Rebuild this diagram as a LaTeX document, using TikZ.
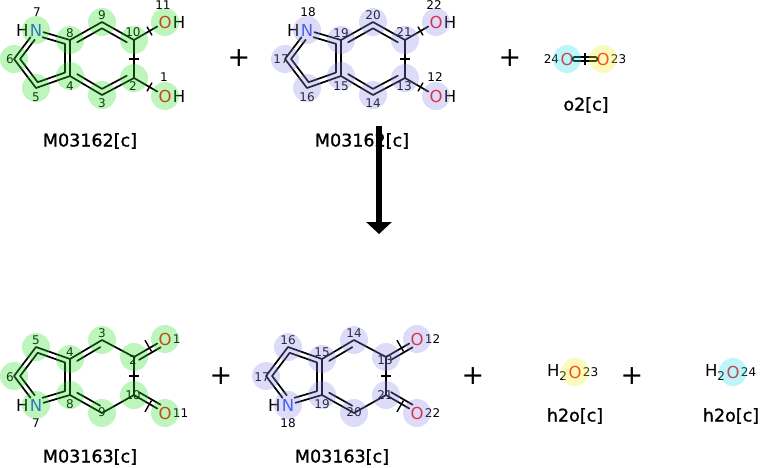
\documentclass[tikz,border=0pt]{standalone}
\usepackage{fontspec}
\setmainfont{DejaVu Sans}
\newfontfamily\namefont[FakeBold=1.2]{DejaVu Sans}
\usepackage{tikz}
\usetikzlibrary{arrows.meta,calc}

\definecolor{hlgreen}{RGB}{38,222,38}
\definecolor{hlblue}{RGB}{138,138,232}
\definecolor{hlcyan}{RGB}{38,222,238}
\definecolor{hlyellow}{RGB}{238,238,38}
\definecolor{ored}{RGB}{255,13,13}
\definecolor{nblue}{RGB}{48,80,248}

\begin{document}
\begin{tikzpicture}[x=1pt,y=-1pt,
  bond/.style={line width=1.7pt, line cap=round, line join=round},
  tick/.style={line width=1.4pt},
  atomlbl/.style={inner sep=1pt, font=\fontsize{16.5}{16.5}\selectfont},
  numlbl/.style={inner sep=0pt, font=\fontsize{12}{12}\selectfont},
  molname/.style={font=\namefont\fontsize{17.5}{17.5}\selectfont},
  plussign/.style={font=\fontsize{27}{27}\selectfont},
  hl/.style={fill=#1, fill opacity=0.3}]
\useasboundingbox (0,0) rectangle (760,467);

% substrates: two indole diols
\foreach \dx/\col/\nN/\nPa/\nPb/\nJa/\nJb/\nBa/\nBb/\nBc/\nBd/\nOa/\nOb in
  {0/hlgreen/7/6/5/4/8/9/10/2/3/11/1, 271/hlblue/18/17/16/15/19/20/21/13/14/22/12}
{
\begin{scope}[shift={(\dx,0)}]
  \node[atomlbl, text=nblue] (N) at (36,30) {N};
  \node[atomlbl, anchor=east, inner sep=0pt] at (N.west) {H};
  \coordinate (p1) at (14,59);
  \coordinate (p2) at (36,88);
  \coordinate (j1) at (70,76);
  \coordinate (j2) at (70,40);
  \coordinate (b1) at (102,22);
  \coordinate (b2) at (134,40);
  \coordinate (b3) at (134,78);
  \coordinate (b4) at (102,95);
  \node[atomlbl, text=ored] (oT) at (165,22) {O};
  \node[atomlbl, anchor=west, inner sep=0pt] at (oT.east) {H};
  \node[atomlbl, text=ored] (oB) at (165,96) {O};
  \node[atomlbl, anchor=west, inner sep=0pt] at (oB.east) {H};
  \coordinate (pc) at (44.5,59);
  \coordinate (hc) at (102,59);
  % rings
  \draw[bond] (N) -- (p1) -- (p2) -- (j1) -- (j2) -- (N);
  \draw[bond] (j2) -- (b1) -- (b2) -- (b3) -- (b4) -- (j1);
  \draw[bond] (b2) -- (oT) (b3) -- (oB);
  \draw[bond, shorten <=5pt, shorten >=5pt] ($(N)!.2!(pc)$) -- ($(p1)!.2!(pc)$)
    -- ($(p2)!.2!(pc)$) -- ($(j1)!.2!(pc)$) -- ($(j2)!.2!(pc)$) -- ($(N)!.2!(pc)$);
  \draw[bond, shorten <=2pt, shorten >=2pt] ($(j2)!.17!(hc)$) -- ($(b1)!.17!(hc)$) -- ($(b2)!.17!(hc)$);
  \draw[bond, shorten <=2pt, shorten >=2pt] ($(b3)!.17!(hc)$) -- ($(b4)!.17!(hc)$) -- ($(j1)!.17!(hc)$);
  % changed bonds
  \draw[tick] ($(b2)!.5!(oT)!5pt!90:(oT)$) -- ($(b2)!.5!(oT)!5pt!-90:(oT)$);
  \draw[tick] ($(b3)!.5!(oB)!5pt!90:(oB)$) -- ($(b3)!.5!(oB)!5pt!-90:(oB)$);
  \draw[tick] ($(b2)!.5!(b3)+(-5,0)$) -- ($(b2)!.5!(b3)+(5,0)$);
  % atom numbers
  \node[numlbl] at ($(N)+(1,-18)$) {\nN};
  \node[numlbl] at ($(p1)+(-4,0)$) {\nPa};
  \node[numlbl] at ($(p2)+(0,9)$) {\nPb};
  \node[numlbl] at ($(j1)+(0,10)$) {\nJa};
  \node[numlbl] at ($(j2)+(0,-7)$) {\nJb};
  \node[numlbl] at ($(b1)+(0,-7)$) {\nBa};
  \node[numlbl] at ($(b2)+(-1,-8)$) {\nBb};
  \node[numlbl] at ($(b3)+(-1,8)$) {\nBc};
  \node[numlbl] at ($(b4)+(0,8)$) {\nBd};
  \node[numlbl] at ($(oT)+(-2,-17)$) {\nOa};
  \node[numlbl] at ($(oB)+(-1,-19)$) {\nOb};
  % highlights
  \foreach \p in {N,p1,p2,j1,j2,b1,b2,b3,b4,oT,oB}
    \fill[hl=\col] (\p.center) circle (14pt);
\end{scope}
}

% products: two indole quinones
\foreach \dx/\col/\nN/\nPa/\nPb/\nJa/\nJb/\nBa/\nBb/\nBc/\nBd/\nOa/\nOb in
  {0/hlgreen/7/6/5/4/8/9/10/2/3/11/1, 252/hlblue/18/17/16/15/19/20/21/13/14/22/12}
{
\begin{scope}[shift={(\dx,435)}, yscale=-1]
  \node[atomlbl, text=nblue] (N) at (36,30) {N};
  \node[atomlbl, anchor=east, inner sep=0pt] at (N.west) {H};
  \coordinate (p1) at (14,59);
  \coordinate (p2) at (36,88);
  \coordinate (j1) at (70,76);
  \coordinate (j2) at (70,40);
  \coordinate (b1) at (102,22);
  \coordinate (b2) at (134,40);
  \coordinate (b3) at (134,78);
  \coordinate (b4) at (102,95);
  \node[atomlbl, text=ored] (oT) at (165,22) {O};
  \node[atomlbl, text=ored] (oB) at (165,96) {O};
  \coordinate (pc) at (44.5,59);
  \coordinate (hc) at (102,59);
  % rings
  \draw[bond] (N) -- (p1) -- (p2) -- (j1) -- (j2) -- (N);
  \draw[bond] (j2) -- (b1) -- (b2) -- (b3) -- (b4) -- (j1);
  \draw[bond] (b2) -- (oT) (b3) -- (oB);
  \draw[bond, shorten <=3pt, shorten >=8pt] ($(b2)+(2.5,4.3)$) -- ($(oT)+(2.5,4.3)$);
  \draw[bond, shorten <=3pt, shorten >=8pt] ($(b3)+(2.5,-4.3)$) -- ($(oB)+(2.5,-4.3)$);
  \draw[bond, shorten <=5pt, shorten >=5pt] ($(N)!.2!(pc)$) -- ($(p1)!.2!(pc)$)
    -- ($(p2)!.2!(pc)$) -- ($(j1)!.2!(pc)$) -- ($(j2)!.2!(pc)$) -- ($(N)!.2!(pc)$);
  \draw[bond, shorten <=2pt, shorten >=2pt] ($(j1)!.17!(hc)$) -- ($(b4)!.17!(hc)$);
  \draw[bond, shorten <=2pt, shorten >=2pt] ($(j2)!.17!(hc)$) -- ($(b1)!.17!(hc)$);
  % changed bonds
  \draw[tick] ($(b2)!.5!(oT)!4pt!-90:(oT)$) -- ($(b2)!.5!(oT)!9pt!90:(oT)$);
  \draw[tick] ($(b3)!.5!(oB)!4pt!90:(oB)$) -- ($(b3)!.5!(oB)!9pt!-90:(oB)$);
  \draw[tick] ($(b2)!.5!(b3)+(-5,0)$) -- ($(b2)!.5!(b3)+(5,0)$);
  % atom numbers
  \node[numlbl] at ($(N)+(0,-18)$) {\nN};
  \node[numlbl] at ($(p1)+(-4,-1)$) {\nPa};
  \node[numlbl] at ($(p2)+(0,7)$) {\nPb};
  \node[numlbl] at ($(j1)+(0,7)$) {\nJa};
  \node[numlbl] at ($(j2)+(0,-9)$) {\nJb};
  \node[numlbl] at ($(b1)+(0,1)$) {\nBa};
  \node[numlbl] at ($(b2)+(-1,0)$) {\nBb};
  \node[numlbl] at ($(b3)+(-1,-3)$) {\nBc};
  \node[numlbl] at ($(b4)+(0,7)$) {\nBd};
  \node[numlbl, anchor=west] at (oT.east) {\nOa};
  \node[numlbl, anchor=west] at (oB.east) {\nOb};
  % highlights
  \foreach \p in {N,p1,p2,j1,j2,b1,b2,b3,b4,oT,oB}
    \fill[hl=\col] (\p.center) circle (14pt);
\end{scope}
}

% oxygen
\node[atomlbl, text=ored] (o24) at (567,59) {O};
\node[atomlbl, text=ored] (o23) at (603,59) {O};
\node[numlbl, anchor=east] at (o24.west) {24};
\node[numlbl, anchor=west] at (o23.east) {23};
\draw[bond, double distance=2.8pt] (o24) -- (o23);
\draw[tick] ($(o24)!.5!(o23)+(0,-6)$) -- ($(o24)!.5!(o23)+(0,6)$);
\fill[hl=hlcyan] (o24.center) circle (14pt);
\fill[hl=hlyellow] (o23.center) circle (14pt);

% water
\node[atomlbl, text=ored] (w23) at (575,372) {O};
\node[atomlbl, anchor=east, inner sep=0pt] at (w23.west) {H\raisebox{-4pt}{\fontsize{12}{12}\selectfont 2}};
\node[numlbl, anchor=west] at (w23.east) {23};
\fill[hl=hlyellow] (w23.center) circle (14pt);
\node[atomlbl, text=ored] (w24) at (733,372) {O};
\node[atomlbl, anchor=east, inner sep=0pt] at (w24.west) {H\raisebox{-4pt}{\fontsize{12}{12}\selectfont 2}};
\node[numlbl, anchor=west] at (w24.east) {24};
\fill[hl=hlcyan] (w24.center) circle (14pt);

% names and plus signs
\node[molname] (s1) at (90,141) {M03162[c]};
\node[molname] (s2) at (362,141) {M03162[c]};
\node[molname] (s3) at (586,105) {o2[c]};
\node[molname] (t1) at (90,457) {M03163[c]};
\node[molname] (t2) at (342,457) {M03163[c]};
\node[molname] (t3) at (575,416) {h2o[c]};
\node[molname] (t4) at (731,416) {h2o[c]};
\foreach \x/\y in {239/58, 510/58, 221/376, 473/376, 632/376}
  \node[plussign] at (\x,\y) {+};

% reaction arrow
\coordinate (rtop) at (379,126);
\coordinate (rbot) at (379,234);
\draw[line width=6.5pt, -{Triangle[length=12pt,width=25pt]}] (rtop) -- (rbot);
\end{tikzpicture}
\end{document}
